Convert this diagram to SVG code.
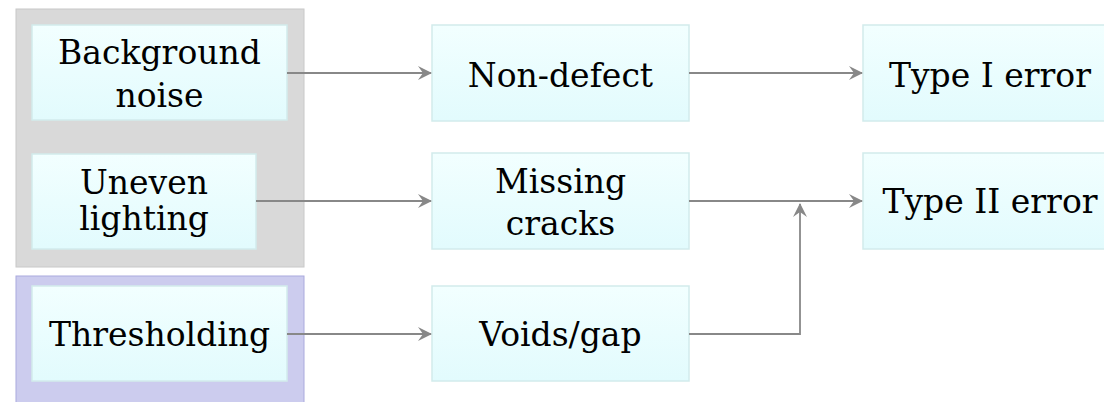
<svg xmlns="http://www.w3.org/2000/svg" width="1104" height="402" viewBox="0 0 1104 402">
<defs>
<linearGradient id="g" x1="0" y1="0" x2="0" y2="1">
<stop offset="0" stop-color="#f2ffff"/>
<stop offset="1" stop-color="#e2fbfd"/>
</linearGradient>
<marker id="ah" viewBox="0 0 14 14" refX="13" refY="7" markerWidth="14" markerHeight="14" markerUnits="userSpaceOnUse" orient="auto">
<path d="M0,0 L14,7 L0,14 L5,7 Z" fill="#888"/>
</marker>
</defs>
<style>
.box{fill:url(#g);stroke:#d2ebec;stroke-width:1.5}
.t{font-family:"DejaVu Serif","Liberation Serif",serif;font-size:33px;fill:#000;text-anchor:middle}
.c{fill:none;stroke:#888;stroke-width:1.8}
</style>
<rect x="16" y="9" width="288" height="258" fill="#d9d9d9" stroke="#c8c8c8" stroke-width="1"/>
<rect x="16" y="276" width="288" height="130" fill="#ccccee" stroke="#aaaadd" stroke-width="1"/>
<g id="background-noise"><rect class="box" x="32" y="25" width="255" height="95"/><text class="t" x="159.5" y="64">Background</text><text class="t" x="159.5" y="107">noise</text></g>
<g id="uneven-lighting"><rect class="box" x="32" y="154" width="224" height="95"/><text class="t" x="144" y="194">Uneven</text><text class="t" x="144" y="230">lighting</text></g>
<g id="thresholding"><rect class="box" x="32" y="286" width="255" height="95"/><text class="t" x="159.5" y="346">Thresholding</text></g>
<g id="non-defect"><rect class="box" x="432" y="25" width="257" height="96"/><text class="t" x="560.5" y="87">Non-defect</text></g>
<g id="missing-cracks"><rect class="box" x="432" y="153" width="257" height="96"/><text class="t" x="560.5" y="193">Missing</text><text class="t" x="560.5" y="235">cracks</text></g>
<g id="voids-gap"><rect class="box" x="432" y="286" width="257" height="95"/><text class="t" x="560.5" y="346">Voids/gap</text></g>
<g id="type-i-error"><rect class="box" x="863" y="25" width="250" height="96"/><text class="t" x="990" y="87">Type I error</text></g>
<g id="type-ii-error"><rect class="box" x="863" y="153" width="250" height="96"/><text class="t" x="990" y="213">Type II error</text></g>
<g id="connectors">
<path class="c" d="M287,73 H431" marker-end="url(#ah)"/>
<path class="c" d="M256,201 H431" marker-end="url(#ah)"/>
<path class="c" d="M287,334 H431" marker-end="url(#ah)"/>
<path class="c" d="M689,73 H862" marker-end="url(#ah)"/>
<path class="c" d="M689,201 H862" marker-end="url(#ah)"/>
<path class="c" d="M689,334 H800 V204" marker-end="url(#ah)"/>
</g>
</svg>
